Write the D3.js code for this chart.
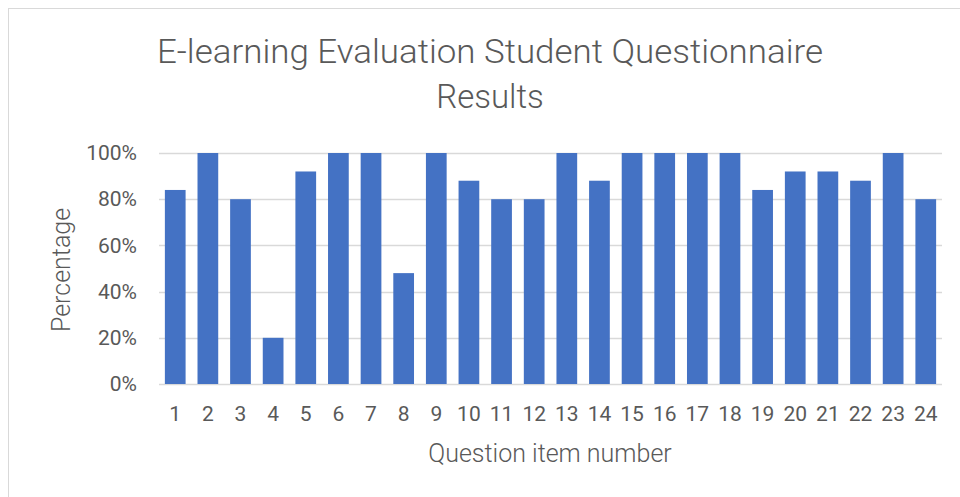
<html>
    <head>
        <script type="text/javascript" src="https://d3js.org/d3.v7.min.js"></script>
        <style>
            body { margin: 0; background: #fff; }
            text { font-family: Roboto, "Open Sans", sans-serif; fill: #595959; }
        </style>
    </head>
    <body>
        <svg width="960" height="497"></svg>
        <script>
            // data
            var questions = d3.range(1, 25).map(String);
            var percentages = [84, 100, 80, 20, 92, 100, 100, 48, 100, 88, 80, 80,
                               100, 88, 100, 100, 100, 100, 84, 92, 92, 88, 100, 80];
            var yTicks = [0, 20, 40, 60, 80, 100];

            var svg = d3.select("svg");
            var plot = {left: 159, right: 942, top: 153, bottom: 384};

            // outer frame (only top/left edges are visible in the picture)
            svg.append("rect")
                .attr("x", 8.5).attr("y", 8.5)
                .attr("width", 1000).attr("height", 1000)
                .attr("fill", "none")
                .attr("stroke", "#d9d9d9");

            var xScale = d3.scaleBand()
                .domain(questions)
                .range([plot.left, plot.right])
                .paddingInner(0.365)
                .paddingOuter(0.18);

            var yScale = d3.scaleLinear()
                .domain([0, 100])
                .range([plot.bottom, plot.top]);

            // gridlines
            svg.append("g")
                .selectAll("line")
                .data(yTicks)
                .enter()
                .append("line")
                .attr("x1", plot.left).attr("x2", plot.right)
                .attr("y1", function(d){ return Math.round(yScale(d)) + 0.5; })
                .attr("y2", function(d){ return Math.round(yScale(d)) + 0.5; })
                .attr("stroke", "#d9d9d9")
                .attr("stroke-width", 1.3);

            // bars
            svg.append("g")
                .selectAll("rect")
                .data(percentages)
                .enter()
                .append("rect")
                .attr("x", function(d, i){ return xScale(questions[i]); })
                .attr("y", function(d){ return yScale(d); })
                .attr("width", xScale.bandwidth())
                .attr("height", function(d){ return yScale(0) - yScale(d); })
                .attr("fill", "#4472c4");

            // y axis labels
            var yAxis = d3.axisLeft(yScale)
                .tickValues(yTicks)
                .tickSize(0)
                .tickPadding(22)
                .tickFormat(function(d){ return d + "%"; });
            var gy = svg.append("g")
                .attr("transform", "translate(" + plot.left + ",0)")
                .call(yAxis);
            gy.select(".domain").remove();
            gy.selectAll("text").attr("font-size", 21).attr("font-family", null).attr("fill", null);

            // x axis labels
            var xAxis = d3.axisBottom(xScale).tickSize(0).tickPadding(22);
            var gx = svg.append("g")
                .attr("transform", "translate(0," + plot.bottom + ")")
                .call(xAxis);
            gx.select(".domain").remove();
            gx.selectAll("text").attr("font-size", 21).attr("font-family", null).attr("fill", null);

            // titles
            svg.append("text")
                .attr("x", 490).attr("y", 63)
                .attr("text-anchor", "middle")
                .attr("font-size", 33)
                .attr("font-weight", 300)
                .attr("textLength", 666)
                .attr("lengthAdjust", "spacingAndGlyphs")
                .text("E-learning Evaluation Student Questionnaire");
            svg.append("text")
                .attr("x", 490).attr("y", 108)
                .attr("text-anchor", "middle")
                .attr("font-size", 33)
                .attr("font-weight", 300)
                .text("Results");

            svg.append("text")
                .attr("x", 550).attr("y", 462)
                .attr("text-anchor", "middle")
                .attr("font-size", 25)
                .attr("font-weight", 300)
                .text("Question item number");

            svg.append("text")
                .attr("transform", "translate(70,270) rotate(-90)")
                .attr("text-anchor", "middle")
                .attr("font-size", 25)
                .attr("font-weight", 300)
                .text("Percentage");
        </script>
    </body>
</html>
